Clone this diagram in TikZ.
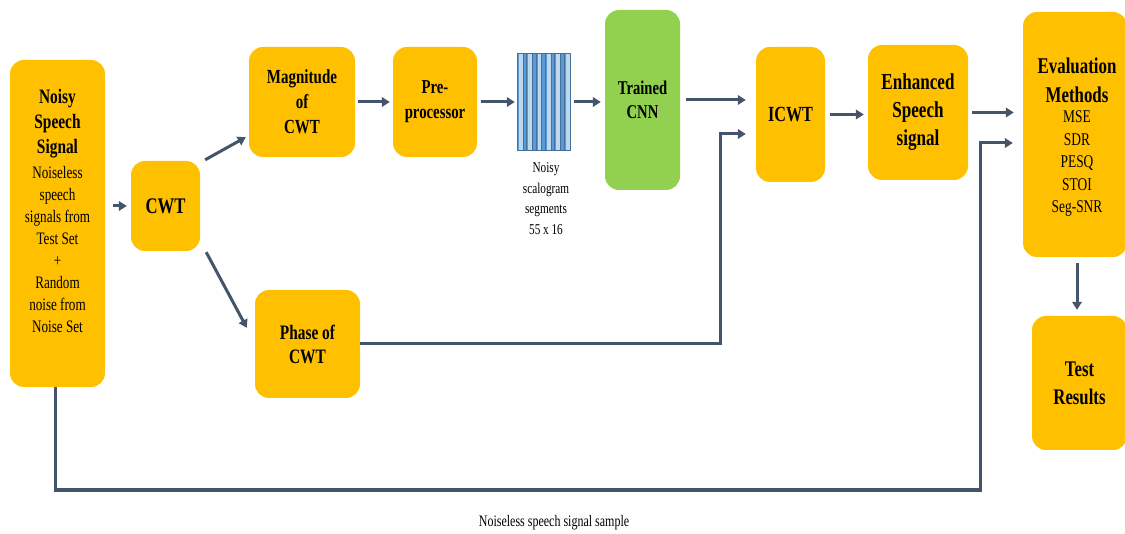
\documentclass[tikz,border=0pt]{standalone}
\usepackage{fontspec}
\setmainfont{Liberation Serif}[FakeStretch=0.75]
\usetikzlibrary{arrows.meta,calc}
\definecolor{boxorange}{HTML}{FFC000}
\definecolor{cnngreen}{HTML}{92D050}
\definecolor{linkgrey}{HTML}{44546A}
\definecolor{scaldark}{HTML}{5B9BD5}
\definecolor{scallight}{HTML}{BDD7EE}
\definecolor{scaledge}{HTML}{41719C}
\tikzset{
  blk/.style={fill=boxorange, rounded corners=14pt, inner sep=0pt, align=center, text=black},
  txt/.style={align=center, inner sep=0pt, text=black},
  ttl/.style={txt, font=\bfseries\fontsize{20}{25}\selectfont},
  bodytxt/.style={txt, font=\fontsize{17.5}{22}\selectfont},
  arr/.style={draw=linkgrey, line width=3pt, -{Triangle[length=8pt,width=9.5pt]}},
}
\begin{document}
\begin{tikzpicture}[x=1pt,y=-1pt]
\fill[white] (0,0) rectangle (1125,534);
\useasboundingbox (0,0) rectangle (1125,534);

% input signal
\node[blk, minimum width=95pt, minimum height=327pt] (noisy) at (57.5,223.5) {};
\node[ttl, font=\bfseries\fontsize{20.5}{25}\selectfont] (noisyttl) at (57.5,124) {Noisy\\Speech\\Signal};
\node[bodytxt] (noisybody) at (57.5,250) {Noiseless\\speech\\signals from\\Test Set\\+\\Random\\noise from\\Noise Set};

% transform stages
\node[blk, minimum width=69pt, minimum height=90pt, font=\bfseries\fontsize{22.3}{26}\selectfont] (cwt) at (165.5,206) {CWT};
\node[blk, minimum width=106pt, minimum height=110pt, font=\bfseries\fontsize{20}{25}\selectfont] (mag) at (302,102) {Magnitude\\of\\CWT};
\node[blk, minimum width=84pt, minimum height=110pt, font=\bfseries\fontsize{19.7}{25}\selectfont] (pre) at (435,102) {Pre-\\processor};
\node[blk, minimum width=105pt, minimum height=108pt, font=\bfseries\fontsize{20.5}{24}\selectfont] (phase) at (307.5,344) {Phase of\\CWT};

% scalogram segments: alternating pale and mid-blue bands
\node[fill=scaldark, minimum width=52pt, minimum height=97pt, inner sep=0pt] (scal) at (544,102) {};
\begin{scope}
  \clip (scal.north west) rectangle (scal.south east);
  \foreach \i in {0,...,5}
    \fill[scallight] ($(scal.north west)+(1.2+9.3*\i,0.5)$) rectangle ++(4.2,96);
  \foreach \i in {0,...,4} {
    \draw[scaledge, line width=0.7pt] ($(scal.north west)+(5.4+9.3*\i,0)$) -- ++(0,97);
    \draw[scaledge, line width=0.5pt] ($(scal.north west)+(8.8+9.3*\i,0)$) -- ++(0,97);
  }
\end{scope}
\draw[scaledge, line width=1pt] (scal.north west) rectangle (scal.south east);
\node[txt, font=\fontsize{15}{20.5}\selectfont] (scalcap) at (546,198.5) {Noisy\\scalogram\\segments\\55 x 16};

% network and reconstruction
\node[blk, fill=cnngreen, minimum width=75pt, minimum height=180pt, font=\bfseries\fontsize{19.5}{24}\selectfont] (cnn) at (642.5,100) {Trained\\CNN};
\node[blk, minimum width=69pt, minimum height=135pt, font=\bfseries\fontsize{21.6}{26}\selectfont] (icwt) at (790.5,114.5) {ICWT};
\node[blk, minimum width=100pt, minimum height=135pt, font=\bfseries\fontsize{22.8}{28}\selectfont] (enh) at (918,112.5) {Enhanced\\Speech\\signal};

% evaluation
\node[blk, minimum width=104pt, minimum height=245pt] (eval) at (1075,134.5) {};
\node[ttl, font=\bfseries\fontsize{22.5}{29}\selectfont] (evalttl) at (1077,80.5) {Evaluation\\Methods};
\node[bodytxt, font=\fontsize{17.9}{22.5}\selectfont] (evallist) at (1077,164) {MSE\\SDR\\PESQ\\STOI\\Seg-SNR};
\node[blk, minimum width=95pt, minimum height=134pt, font=\bfseries\fontsize{22.3}{28}\selectfont] (test) at (1079.5,383) {Test\\Results};

\node[txt, font=\fontsize{16}{19}\selectfont] (fbcap) at (554,523) {Noiseless speech signal sample};

% connectors
\coordinate (ph) at (720,134);
\coordinate (fb1) at (980,490);
\coordinate (fb2) at (980,143);
\draw[arr, shorten <=8pt, shorten >=4pt] (noisy.east |- cwt.west) -- (cwt.west);
\draw[arr] ($(cwt.north east)+(5,-1)$) -- ($(mag.south west)+(-3,-20)$);
\draw[arr] ($(cwt.south east)+(6,1)$) -- ($(phase.north west)+(-8,38)$);
\draw[arr, shorten <=3pt, shorten >=3pt] (mag.east) -- (pre.west);
\draw[arr, shorten <=4pt, shorten >=3pt] (pre.east) -- (scal.west);
\draw[arr, shorten <=4pt, shorten >=4pt] (scal.east) -- (scal.east -| cnn.west);
\draw[arr, shorten <=6pt, shorten >=10pt] (cnn.east) -- (cnn.east -| icwt.west);
\draw[arr, shorten >=10pt] (phase.east) -| (ph) -- (ph -| icwt.west);
\draw[arr, shorten <=5pt, shorten >=4pt] (icwt.east) -- (icwt.east -| enh.west);
\draw[arr, shorten <=4pt, shorten >=9pt] (enh.east) -- (enh.east -| eval.west);
\draw[arr, shorten >=10pt] ([xshift=-2.5pt]noisy.south) |- (fb1) -- (fb2) -- (fb2 -| eval.west);
\draw[arr, shorten <=6pt, shorten >=6pt] ([xshift=2pt]eval.south) -- ([xshift=2pt]eval.south |- test.north);
\end{tikzpicture}
\end{document}
